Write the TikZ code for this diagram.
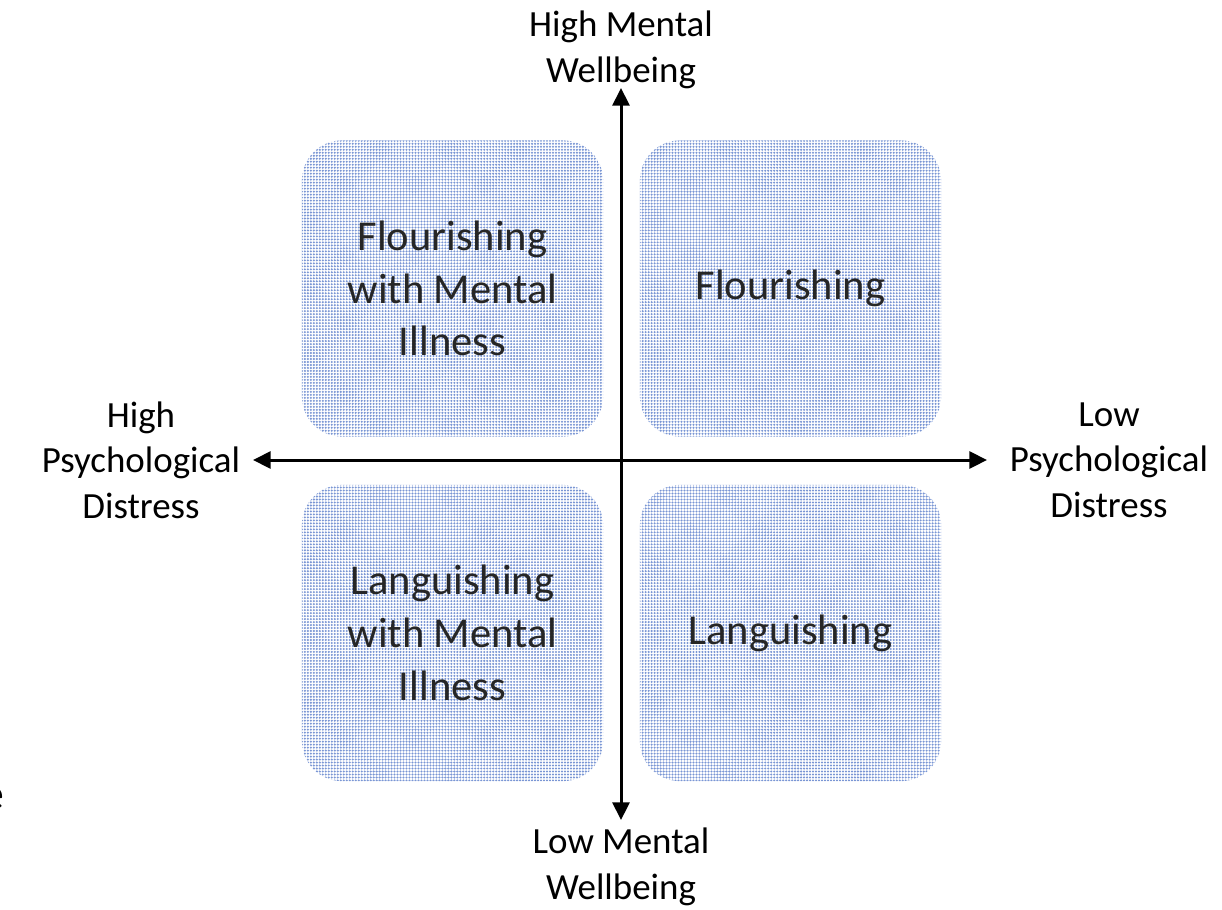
\documentclass[tikz,border=0pt]{standalone}
\usepackage{fontspec}
\setmainfont{Carlito}
\usepackage{tikz}
\usetikzlibrary{arrows.meta, positioning, patterns.meta}
\definecolor{dotblue}{RGB}{122,150,212}
\tikzset{
    quadbox/.style={rectangle, rounded corners=0.4cm, minimum width=3.01cm, minimum height=2.96cm, align=center, font=\fontsize{12.1}{15}\selectfont, text=black!85, pattern={Dots[distance=0.85pt, radius=0.33pt]}, pattern color=dotblue},
    axisarrow/.style={{Triangle[length=5pt, width=4.8pt]}-{Triangle[length=5pt, width=4.8pt]}, line width=0.85pt},
    axislabel/.style={align=center, font=\fontsize{10.5}{12.9}\selectfont, inner sep=0pt}
}

\begin{document}
\begin{tikzpicture}[x=0.01cm, y=-0.01cm]
\useasboundingbox (0,0) rectangle (1222,909);

% quadrants
\node[quadbox] (flmi) at (452.5,288.5) {Flourishing\\with Mental\\Illness};
\node[quadbox] (fl) at (790.5,288.5) {Flourishing};
\node[quadbox] (lami) at (452.5,633) {Languishing\\with Mental\\Illness};
\node[quadbox] (la) at (790.5,633) {Languishing};

% axes
\coordinate (top) at (621,88);
\coordinate (bottom) at (621,820);
\coordinate (left) at (253,460);
\coordinate (right) at (987,460);
\draw[axisarrow] (bottom) -- (top);
\draw[axisarrow] (left) -- (right);

\node[axislabel] (hiwell) at (621,50) {High Mental\\Wellbeing};
\node[axislabel] (lowell) at (621,867) {Low Mental\\Wellbeing};
\node[axislabel] (hidist) at (141,460) {High\\Psychological\\Distress};
\node[axislabel] (lodist) at (1109,460) {Low\\Psychological\\Distress};

\node[font=\fontsize{13}{15}\selectfont, inner sep=0pt, anchor=east] (stray) at (5,799) {e};
\end{tikzpicture}
\end{document}
